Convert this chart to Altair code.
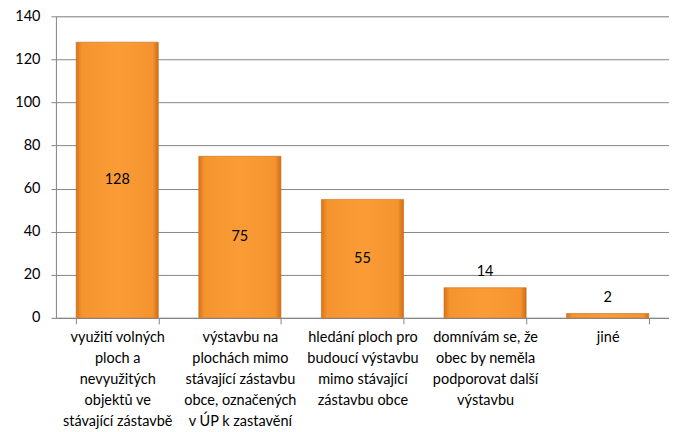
import altair as alt
import pandas as pd

categories = [
    "využití volných|ploch a|nevyužitých|objektů ve|stávající zástavbě",
    "výstavbu na|plochách mimo|stávající zástavbu|obce, označených|v ÚP k zastavění",
    "hledání ploch pro|budoucí výstavbu|mimo stávající|zástavbu obce",
    "domnívám se, že|obec by neměla|podporovat další|výstavbu",
    "jiné",
]
values = [128, 75, 55, 14, 2]

df = pd.DataFrame({"cat": categories, "val": values})

FONT = "Lato"

x = alt.X(
    "cat:N",
    sort=categories,
    title=None,
    scale=alt.Scale(paddingInner=0.33, paddingOuter=0.165),
    axis=alt.Axis(
        labelAngle=0,
        labelExpr="split(datum.label, '|')",
        labelLineHeight=21,
        labelFontSize=14.5,
        labelFont=FONT,
        labelColor="#000000",
        labelPadding=7,
        tickBand="extent",
        tickSize=6,
        tickColor="#868686",
        domainColor="#868686",
        labelLimit=200,
        grid=False,
    ),
)

y_axis = alt.Axis(
    values=[0, 20, 40, 60, 80, 100, 120, 140],
    labelFontSize=14.5,
    labelFont=FONT,
    labelColor="#000000",
    labelPadding=11,
    tickSize=5,
    tickColor="#868686",
    domainColor="#868686",
    gridColor="#868686",
    gridWidth=1,
    title=None,
)

grad = alt.Gradient(
    gradient="linear",
    stops=[
        alt.GradientStop(color="#D8731A", offset=0),
        alt.GradientStop(color="#F5942E", offset=0.07),
        alt.GradientStop(color="#FA9C36", offset=0.5),
        alt.GradientStop(color="#F5942E", offset=0.93),
        alt.GradientStop(color="#CF6D18", offset=1),
    ],
    x1=0, x2=1, y1=0, y2=0,
)

bars = alt.Chart(df).mark_bar(color=grad, stroke="#C7691B", strokeWidth=0.6).encode(
    x=x,
    y=alt.Y("val:Q", scale=alt.Scale(domain=[0, 140]), axis=y_axis),
)

inside = alt.Chart(df).transform_filter("datum.val >= 20").transform_calculate(
    mid="datum.val / 2"
).mark_text(fontSize=14.5, font=FONT, color="#000000", baseline="middle").encode(
    x=alt.X("cat:N", sort=categories),
    y=alt.Y("mid:Q"),
    text="val:Q",
)

above = alt.Chart(df).transform_filter("datum.val < 20").mark_text(
    fontSize=14.5, font=FONT, color="#000000", baseline="middle", dy=-16
).encode(
    x=alt.X("cat:N", sort=categories),
    y=alt.Y("val:Q"),
    text="val:Q",
)

chart = (bars + inside + above).properties(
    width=614,
    height=302,
    padding={"top": 0, "left": 6, "right": 0, "bottom": 0},
).configure_view(stroke=None).configure(background="#ffffff")

chart.save("out.html", embed_options={"renderer": "svg", "actions": False})
